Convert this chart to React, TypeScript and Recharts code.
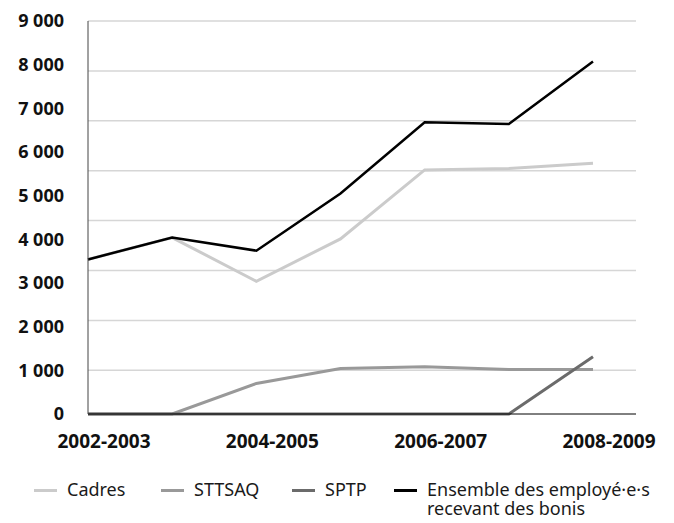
import { LineChart, Line, XAxis, YAxis, CartesianGrid, Legend } from 'recharts'

const years = ['2002-2003', '2003-2004', '2004-2005', '2005-2006', '2006-2007', '2007-2008', '2008-2009']
const cadres = [3540, 4040, 3040, 4010, 5590, 5620, 5740]
const sttsaq = [0, 0, 700, 1040, 1080, 1020, 1020]
const sptp = [0, 0, 0, 0, 0, 0, 1310]
const ensemble = [3540, 4040, 3740, 5050, 6680, 6640, 8070]

const yTicks = [0, 1000, 2000, 3000, 4000, 5000, 6000, 7000, 8000, 9000]
// the source draws its grid on its own spacing, not on the labelled ticks
const gridValues = [1000, 2143, 3286, 4429, 5571, 6714, 7857, 9000]

const series = [
  { key: 'cadres', label: 'Cadres', color: '#cbcbcb' },
  { key: 'sttsaq', label: 'STTSAQ', color: '#999999' },
  { key: 'sptp', label: 'SPTP', color: '#6b6b6b' },
  { key: 'ensemble', label: 'Ensemble des employé·e·s\nrecevant des bonis', color: '#000000' },
]

const data = years.map((year, i) => ({
  year,
  cadres: cadres[i],
  sttsaq: sttsaq[i],
  sptp: sptp[i],
  ensemble: ensemble[i],
}))

const fmt = (v: number) => (v === 0 ? '0' : `${Math.floor(v / 1000)} ${String(v % 1000).padStart(3, '0')}`)

const legendLeft = [34, 161, 292, 394]

const renderLegend = () => (
  <div style={{ position: 'relative', width: 674, height: 42, fontFamily: 'Noto Sans', fontSize: 18, color: '#1a1a1a' }}>
    {series.map((s, i) => (
      <div key={s.key} style={{ position: 'absolute', left: legendLeft[i], top: 0, display: 'flex', alignItems: 'flex-start' }}>
        <span style={{ display: 'block', width: 23, height: 3, background: s.color, marginTop: 9, marginRight: 10 }} />
        <span style={{ lineHeight: '19px', whiteSpace: 'pre-line' }}>{s.label}</span>
      </div>
    ))}
  </div>
)

const tickStyle = { fontFamily: 'Noto Sans', fontSize: 18, fontWeight: 700, fill: '#111' }

export default function App() {
  return (
    <div style={{ margin: -8, background: '#fff' }}>
      <LineChart width={674} height={523} data={data} margin={{ top: 21, right: 38, bottom: 27, left: 0 }}>
        <CartesianGrid vertical={false} horizontalValues={gridValues} stroke="#d6d6d6" strokeWidth={1.5} />
        <XAxis
          dataKey="year"
          interval={1}
          padding={{ left: 0, right: 43 }}
          tickLine={false}
          tickMargin={15}
          height={40}
          axisLine={{ stroke: '#000', strokeWidth: 1 }}
          tick={{ ...tickStyle, fontSize: 19, dx: 16 }}
        />
        <YAxis
          domain={[0, 9000]}
          ticks={yTicks}
          width={88}
          tickLine={false}
          tickMargin={18}
          tickFormatter={fmt}
          axisLine={{ stroke: '#444', strokeWidth: 1 }}
          tick={tickStyle}
        />
        <Legend verticalAlign="bottom" content={renderLegend} wrapperStyle={{ top: 480, left: 0, bottom: 'auto', width: 674 }} />
        {series.map((s) => (
          <Line
            key={s.key}
            type="linear"
            dataKey={s.key}
            stroke={s.color}
            strokeWidth={s.key === 'ensemble' ? 2.5 : 3}
            dot={false}
            activeDot={false}
            isAnimationActive={false}
          />
        ))}
      </LineChart>
    </div>
  )
}
